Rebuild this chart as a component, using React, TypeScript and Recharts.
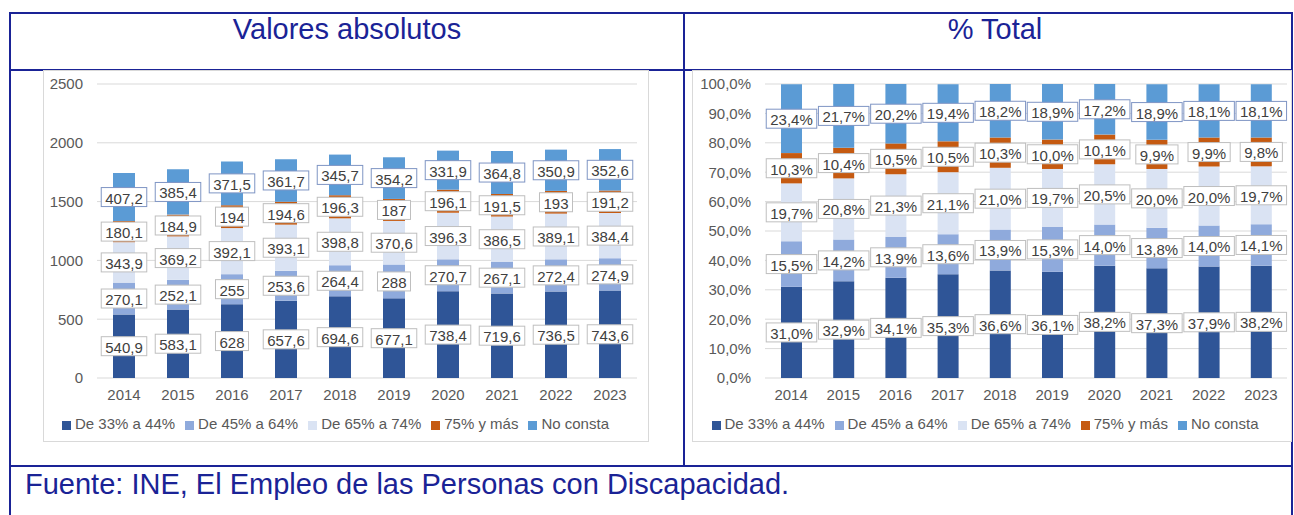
import React from 'react';
import { BarChart, Bar, XAxis, YAxis, CartesianGrid, Legend, LabelList } from 'recharts';

const years = ['2014', '2015', '2016', '2017', '2018', '2019', '2020', '2021', '2022', '2023'];

// Valores absolutos (miles)
const abs33a44 = [540.9, 583.1, 628, 657.6, 694.6, 677.1, 738.4, 719.6, 736.5, 743.6];
const abs45a64 = [270.1, 252.1, 255, 253.6, 264.4, 288, 270.7, 267.1, 272.4, 274.9];
const abs65a74 = [343.9, 369.2, 392.1, 393.1, 398.8, 370.6, 396.3, 386.5, 389.1, 384.4];
const abs75mas = [180.1, 184.9, 194, 194.6, 196.3, 187, 196.1, 191.5, 193, 191.2];
const absNoConsta = [407.2, 385.4, 371.5, 361.7, 345.7, 354.2, 331.9, 364.8, 350.9, 352.6];

// % Total
const pct33a44 = [31.0, 32.9, 34.1, 35.3, 36.6, 36.1, 38.2, 37.3, 37.9, 38.2];
const pct45a64 = [15.5, 14.2, 13.9, 13.6, 13.9, 15.3, 14.0, 13.8, 14.0, 14.1];
const pct65a74 = [19.7, 20.8, 21.3, 21.1, 21.0, 19.7, 20.5, 20.0, 20.0, 19.7];
const pct75mas = [10.3, 10.4, 10.5, 10.5, 10.3, 10.0, 10.1, 9.9, 9.9, 9.8];
const pctNoConsta = [23.4, 21.7, 20.2, 19.4, 18.2, 18.9, 17.2, 18.9, 18.1, 18.1];

const absTicks = [0, 500, 1000, 1500, 2000, 2500];
const pctTicks = [0, 10, 20, 30, 40, 50, 60, 70, 80, 90, 100];

const series = [
  { key: 'a', name: 'De 33% a 44%', color: '#2f5597', border: '#bfbfbf' },
  { key: 'b', name: 'De 45% a 64%', color: '#8faadc', border: '#bfbfbf' },
  { key: 'c', name: 'De 65% a 74%', color: '#dae3f3', border: '#bfbfbf' },
  { key: 'd', name: '75% y más', color: '#c55a11', border: '#bfbfbf' },
  { key: 'e', name: 'No consta', color: '#5b9bd5', border: '#7f95c4' },
];

const absData = years.map((y, i) => ({
  year: y, a: abs33a44[i], b: abs45a64[i], c: abs65a74[i], d: abs75mas[i], e: absNoConsta[i],
}));
const pctData = years.map((y, i) => ({
  year: y, a: pct33a44[i], b: pct45a64[i], c: pct65a74[i], d: pct75mas[i], e: pctNoConsta[i],
}));

const FONT = "'Liberation Sans', Arial, sans-serif";
const NAVY = '#1a2396';
const GREY = '#595959';

const fmtAbs = (v: number) => String(v).replace('.', ',');
const fmtPct = (v: number) => v.toFixed(1).replace('.', ',') + '%';

const charW = (c: string) => (c === ',' || c === '.' ? 0.278 : c === '%' ? 0.889 : 0.556);
const textW = (s: string, fs: number) => s.split('').reduce((a, c) => a + charW(c), 0) * fs;

const boxLabel = (stroke: string, fmt: (v: number) => string) => (props: any) => {
  const x = Number(props.x), y = Number(props.y);
  const width = Number(props.width), height = Number(props.height);
  const text = fmt(Number(props.value));
  const w = textW(text, 15) + 8;
  const h = 19;
  const cx = x + width / 2;
  const cy = y + height / 2;
  return (
    <g>
      <rect x={cx - w / 2} y={cy - h / 2} width={w} height={h} fill="#fff" stroke={stroke} strokeWidth={1} />
      <text x={cx} y={cy + 1} textAnchor="middle" dominantBaseline="central" fontSize={15} fill="#404040" fontFamily={FONT}>
        {text}
      </text>
    </g>
  );
};

const legendFmt = (v: string) => <span style={{ color: GREY }}>{v}</span>;
const legendOrder = (item: any) => series.findIndex(s => s.key === item.dataKey);

const StackChart = ({ data, width, yWidth, rightMargin, domain, ticks, tickFmt, fmt, barSize }: any) => (
  <BarChart
    width={width}
    height={370}
    data={data}
    margin={{ top: 13, right: rightMargin, left: 0, bottom: 4 }}
    style={{ fontFamily: FONT }}
  >
    <CartesianGrid vertical={false} stroke="#d9d9d9" />
    <XAxis
      dataKey="year"
      axisLine={false}
      tickLine={false}
      height={37}
      tickMargin={5}
      tick={{ fontSize: 15, fill: GREY }}
    />
    <YAxis
      width={yWidth}
      domain={domain}
      ticks={ticks}
      axisLine={false}
      tickLine={false}
      tickMargin={8}
      tickFormatter={tickFmt}
      tick={{ fontSize: 15, fill: GREY }}
    />
    <Legend
      verticalAlign="bottom"
      height={22}
      iconType="square"
      iconSize={9}
      formatter={legendFmt}
      itemSorter={legendOrder}
      wrapperStyle={{ fontSize: 15 }}
    />
    {series.map(s => (
      <Bar key={s.key} dataKey={s.key} name={s.name} stackId="s" fill={s.color} barSize={barSize} isAnimationActive={false}>
        <LabelList dataKey={s.key} content={boxLabel(s.border, fmt)} />
      </Bar>
    ))}
  </BarChart>
);

const line = (left: number, top: number, width: number, height: number) => (
  <div style={{ position: 'absolute', left, top, width, height, background: NAVY }} />
);

const App = () => (
  <div style={{ position: 'absolute', left: 0, top: 0, width: 1294, height: 515, background: '#fff', fontFamily: FONT, overflow: 'hidden' }}>
    {line(9, 12, 1284, 2)}
    {line(9, 12, 2, 503)}
    {line(1291, 12, 2, 503)}
    {line(9, 69, 1284, 2)}
    {line(683, 12, 2, 455)}
    {line(9, 465, 1284, 2)}

    <div style={{ position: 'absolute', left: 147, top: 14.5, width: 400, textAlign: 'center', fontSize: 29, lineHeight: '29px', color: NAVY }}>
      Valores absolutos
    </div>
    <div style={{ position: 'absolute', left: 795, top: 14.5, width: 400, textAlign: 'center', fontSize: 29, lineHeight: '29px', color: NAVY }}>
      % Total
    </div>

    <div style={{ position: 'absolute', left: 43, top: 70, width: 606, height: 372, border: '1px solid #d9d9d9', boxSizing: 'border-box' }}>
      <StackChart
        data={absData}
        width={604}
        yWidth={53}
        rightMargin={11}
        domain={[0, 2500]}
        ticks={absTicks}
        tickFmt={(v: number) => String(v)}
        fmt={fmtAbs}
        barSize={22}
      />
    </div>

    <div style={{ position: 'absolute', left: 692, top: 70, width: 600, height: 372, border: '1px solid #d9d9d9', boxSizing: 'border-box' }}>
      <StackChart
        data={pctData}
        width={598}
        yWidth={72}
        rightMargin={4}
        domain={[0, 100]}
        ticks={pctTicks}
        tickFmt={(v: number) => v.toFixed(1).replace('.', ',') + '%'}
        fmt={fmtPct}
        barSize={21}
      />
    </div>

    <div style={{ position: 'absolute', left: 25, top: 469.5, fontSize: 29, lineHeight: '29px', color: NAVY, whiteSpace: 'nowrap' }}>
      Fuente: INE, El Empleo de las Personas con Discapacidad.
    </div>
  </div>
);

export default App;
